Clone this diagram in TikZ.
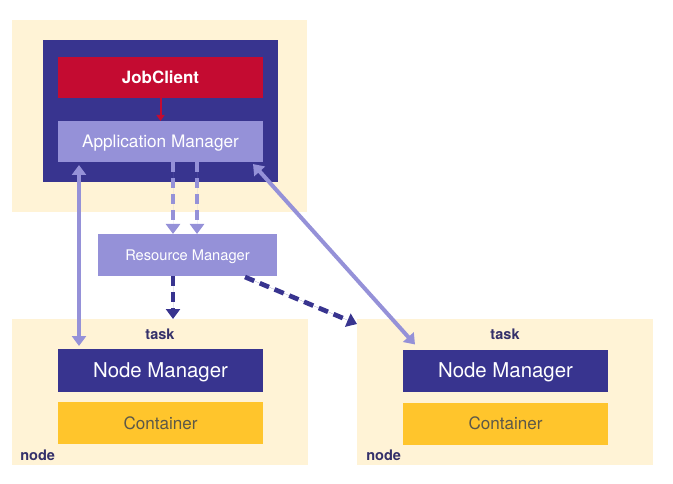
\documentclass[tikz,border=0pt]{standalone}
\usepackage{fontspec}
\setmainfont{TeX Gyre Heros}
\usetikzlibrary{arrows.meta,positioning,calc}

\definecolor{bgbeige}{HTML}{FFF3D6}
\definecolor{darkblue}{HTML}{38348F}
\definecolor{jcred}{HTML}{C40B31}
\definecolor{lavender}{HTML}{9591D8}
\definecolor{contyellow}{HTML}{FFC52C}
\definecolor{labeltext}{HTML}{34306A}
\definecolor{conttext}{HTML}{5C5848}

\begin{document}
\begin{tikzpicture}[x=0.75pt,y=-0.75pt,
  >={Triangle[length=7.5pt,width=10.5pt]},
  box/.style={minimum width=153.75pt,minimum height=31.5pt,inner sep=0pt,outer sep=0pt,text depth=0pt},
  bg/.style={fill=bgbeige,minimum width=222pt,minimum height=109.5pt,inner sep=0pt,outer sep=0pt},
  small/.style={font=\bfseries\fontsize{10.9}{12}\selectfont,text=labeltext,inner sep=0pt},
  light/.style={draw=lavender,line width=3pt},
  dark/.style={draw=darkblue,line width=3.5pt,dash pattern=on 7.5pt off 4.5pt}]
  \useasboundingbox (0,0) rectangle (673,484);

  % client side
  \node[fill=bgbeige,minimum width=221.25pt,minimum height=144pt,inner sep=0pt] (topbg) at (159.5,116) {};
  \node[fill=darkblue,minimum width=176.25pt,minimum height=106.5pt,inner sep=0pt] (frame) at (160.5,111) {};
  \node[box,fill=lavender,minimum height=30.75pt,text=white,font=\fontsize{12.9}{15}\selectfont] (am) at (160.5,141.5) {Application Manager};
  \node[box,fill=jcred,minimum height=30.75pt,text=white,font=\bfseries\fontsize{12.7}{15}\selectfont] (jc) [above=17.25pt of am] {JobClient};

  \node[box,fill=lavender,minimum width=134.25pt,text=white,font=\fontsize{11}{13}\selectfont] (rm) at (187.5,255) {Resource Manager};

  % nodes
  \node[bg] (leftbg) at (160,392) {};
  \node[bg] (rightbg) at (505,392) {};
  \node[box,fill=darkblue,minimum height=32.25pt,text=white,font=\fontsize{15.3}{18}\selectfont] (nm1) at (160.5,370.5) {Node Manager};
  \node[box,fill=contyellow,text=conttext,font=\fontsize{12.8}{15}\selectfont] (ct1) [below=7.5pt of nm1] {Container};
  \node[box,fill=darkblue,minimum height=31.5pt,text=white,font=\fontsize{15.3}{18}\selectfont] (nm2) at (505.5,370.5) {Node Manager};
  \node[box,fill=contyellow,text=conttext,font=\fontsize{12.8}{15}\selectfont] (ct2) [below=8.25pt of nm2] {Container};
  \node[small] (task1) at (160,334) {task};
  \node[small] (task2) at (505,334) {task};
  \node[small,anchor=west] (node1) at ($(leftbg.south west)+(8,-10)$) {node};
  \node[small,anchor=west] (node2) at ($(rightbg.south west)+(9,-10)$) {node};

  % connectors
  \coordinate (rmdown) at ($(rm.south west)+(75,0)$);
  \draw[->,draw=jcred,line width=1.5pt,>={Triangle[length=4.5pt,width=6pt]},fill=jcred] (jc) -- (am);
  \draw[<->,light,fill=lavender] ($(am.south west)+(21,3)$) -- ($(nm1.north west)+(21,-3)$);
  \draw[<->,light,fill=lavender] ($(am.south east)+(-10,2)$) -- ($(nm2.north west)+(12,-5)$);
  \draw[->,light,fill=lavender,dash pattern=on 7.5pt off 4.5pt] ($(am.south west)+(115,0)$) -- ($(rm.north west)+(75,0)$);
  \draw[->,light,fill=lavender,dash pattern=on 7.5pt off 4.5pt] ($(am.south west)+(139,0)$) -- ($(rm.north west)+(99,0)$);
  \draw[->,dark,fill=darkblue] (rmdown) -- (rmdown |- leftbg.north);
  \draw[->,dark,fill=darkblue] ($(rm.south east)+(-32,1)$) -- ($(rightbg.north west)+(0,5)$);
\end{tikzpicture}
\end{document}
